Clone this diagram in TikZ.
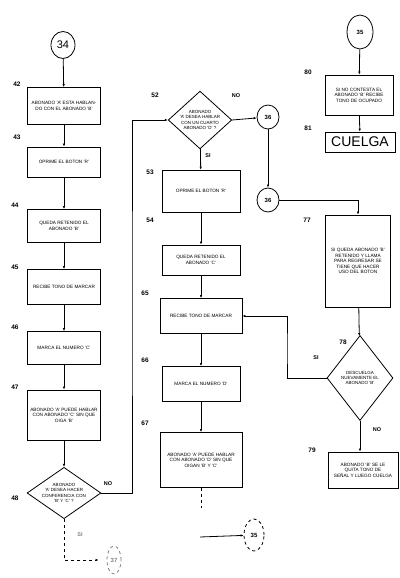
\documentclass[tikz,border=0pt]{standalone}
\usepackage{fontspec}
\setmainfont{Liberation Sans}
\usetikzlibrary{shapes.geometric}
\usetikzlibrary{positioning}
\usetikzlibrary{arrows.meta}

\begin{document}
\begin{tikzpicture}
			[
				x = 1pt, y = -1pt,
				mybox/.style = {draw, rectangle, thick, inner sep = 1pt, align = center, font = \fontsize{4.7}{5.6}\selectfont},
				mydecision/.style = {draw, diamond, thick, inner sep = 0.5pt, align = center, font = \fontsize{4.5}{5.3}\selectfont},
				myconnector/.style = {draw, ellipse, thick, inner sep = 0pt, minimum width = 22, minimum height = 24, font = \fontsize{6}{7}\selectfont\bfseries},
				mynumber/.style = {font = \fontsize{6.5}{7}\selectfont\bfseries},
				myanswer/.style = {font = \fontsize{5.5}{6}\selectfont\bfseries},
				myarrow/.style = {thick, -{Latex[length = 3pt, width = 2.5pt]}}
			]
			\useasboundingbox (0,0) rectangle (399,578);
			%
			% left column
			\node (c34) [myconnector, minimum width = 24, minimum height = 27, font = \fontsize{11}{12}\selectfont] at (63,45) {34};
			\node (b42) [mybox, minimum width = 73, minimum height = 37] at (64,106) {ABONADO 'A' ESTA HABLAN-\\DO CON EL ABONADO 'B'};
			\node (b43) [mybox, minimum width = 73, minimum height = 30] at (64,162) {OPRIME EL BOTON 'R'};
			\node (b44) [mybox, minimum width = 73, minimum height = 33] at (64,226) {QUEDA RETENIDO EL\\ABONADO 'B'};
			\node (b45) [mybox, minimum width = 73, minimum height = 35] at (64,287) {RECIBE TONO DE MARCAR};
			\node (b46) [mybox, minimum width = 73, minimum height = 33] at (64,348) {MARCA EL NUMERO 'C'};
			\node (b47) [mybox, minimum width = 73, minimum height = 50] at (64,415) {ABONADO 'A' PUEDE HABLAR\\CON ABONADO 'C' SIN QUE\\OIGA 'B'};
			\node (d48) [mydecision, aspect = 1.44, minimum width = 72, minimum height = 50] at (64,493) {ABONADO\\'A' DESEA HACER\\CONFERENCIA CON\\'B' Y 'C' ?};
			\node (c37) [myconnector, dashed, draw = gray, text = gray, minimum width = 14, minimum height = 28] at (114,560) {37};
			%
			\draw [myarrow] (c34) -- (b42);
			\draw [myarrow] (b42) -- (b43);
			\draw [myarrow] (b43) -- (b44);
			\draw [myarrow] (b44) -- (b45);
			\draw [myarrow] (b45) -- (b46);
			\draw [myarrow] (b46) -- (b47);
			\draw [myarrow] (b47) -- (d48);
			\draw [myarrow, dashed] (d48.south) |- ([xshift = -8pt]c37.west);
			%
			% middle column
			\node (d52) [mydecision, aspect = 1.1, minimum width = 62, minimum height = 56] at (200,120) {ABONADO\\'A' DESEA HABLAR\\CON UN CUARTO\\ABONADO 'D' ?};
			\node (b53) [mybox, minimum width = 78, minimum height = 42] at (201,191) {OPRIME EL BOTON 'R'};
			\node (b54) [mybox, minimum width = 78, minimum height = 30] at (201,260) {QUEDA RETENIDO EL\\ABONADO 'C'};
			\node (b65) [mybox, minimum width = 82, minimum height = 35] at (201,316) {RECIBE TONO DE MARCAR};
			\node (b66) [mybox, minimum width = 78, minimum height = 35] at (201,384) {MARCA EL NUMERO 'D'};
			\node (b67) [mybox, minimum width = 82, minimum height = 55] at (201,460) {ABONADO 'A' PUEDE HABLAR\\CON ABONADO 'D' SIN QUE\\OIGAN 'B' Y 'C'};
			\coordinate (e67) at (201,508);
			\coordinate (s35) at (200,537);
			\node (c35b) [myconnector, dashed, minimum width = 20, minimum height = 32] at (254,535) {35};
			%
			\draw [myarrow] (d52) -- (b53);
			\draw [myarrow] (b53) -- (b54);
			\draw [myarrow] (b54) -- (b65);
			\draw [myarrow] (b65) -- (b66);
			\draw [myarrow] (b66) -- (b67);
			\draw [thick, dashed] (b67) -- (e67);
			\draw [myarrow] (s35) -- (c35b);
			%
			\coordinate (q48) at (132,300);
			\draw [myarrow] (d48.east) -| (q48) |- (d52.west);
			%
			% connectors between columns
			\node (cA) [myconnector] at (268,117) {36};
			\node (cB) [myconnector] at (268,200) {36};
			\draw [myarrow] (d52.east) -- (cA);
			\draw [myarrow] (cA) -- (cB);
			%
			% right column
			\node (c35) [myconnector, minimum width = 26, minimum height = 34] at (360,32) {35};
			\node (b80) [mybox, minimum width = 68, minimum height = 40] at (359,95) {SI NO CONTESTA EL\\ABONADO 'B' RECIBE\\TONO DE OCUPADO};
			\node (b81) [mybox, minimum width = 70, minimum height = 20, font = \fontsize{14}{15}\selectfont] at (360,142) {CUELGA};
			\node (b77) [mybox, minimum width = 65, minimum height = 92] at (358,261) {SI QUEDA ABONADO 'B'\\RETENIDO Y LLAMA\\PARA REGRESAR SE\\TIENE QUE HACER\\USO DEL BOTON};
			\node (d78) [mydecision, aspect = 0.78, minimum width = 66, minimum height = 85] at (360,378) {DESCUELGA\\NUEVAMENTE EL\\ABONADO 'B'};
			\node (b79) [mybox, minimum width = 70, minimum height = 36] at (363,470) {ABONADO 'B' SE LE\\QUITA TONO DE\\SEÑAL Y LUEGO CUELGA};
			%
			\draw [myarrow] (c35) -- (b80);
			\draw [myarrow] (b80) -- (b81);
			\draw [myarrow] (cB.east) -| (b77.north);
			\draw [myarrow] (b77) -- (d78);
			\draw [myarrow] (d78.south) -- (d78.south |- b79.north);
			\coordinate (k78) at (287,350);
			\draw [myarrow] (d78.west) -| (k78) |- (b65.east);
			%
			% step numbers
			\node (l42) [mynumber] at (17,84) {42};
			\node (l43) [mynumber] at (17,137) {43};
			\node (l44) [mynumber] at (15,205) {44};
			\node (l45) [mynumber] at (15,267) {45};
			\node (l46) [mynumber] at (15,327) {46};
			\node (l47) [mynumber] at (15,387) {47};
			\node (l48) [mynumber] at (15,498) {48};
			\node (l52) [mynumber] at (155,95) {52};
			\node (l53) [mynumber] at (150,172) {53};
			\node (l54) [mynumber] at (150,220) {54};
			\node (l65) [mynumber] at (145,293) {65};
			\node (l66) [mynumber] at (145,360) {66};
			\node (l67) [mynumber] at (145,423) {67};
			\node (l80) [mynumber] at (308,72) {80};
			\node (l81) [mynumber] at (308,128) {81};
			\node (l77) [mynumber] at (307,220) {77};
			\node (l78) [mynumber] at (343,342) {78};
			\node (l79) [mynumber] at (312,450) {79};
			%
			% answers
			\node (n48) [myanswer] at (108,484) {NO};
			\node (s48) [myanswer, text = gray] at (80,535) {SI};
			\node (n52) [myanswer] at (236,96) {NO};
			\node (s52) [myanswer] at (208,156) {SI};
			\node (s78) [myanswer] at (316,358) {SI};
			\node (n78) [myanswer] at (377,430) {NO};
		\end{tikzpicture}
\end{document}
